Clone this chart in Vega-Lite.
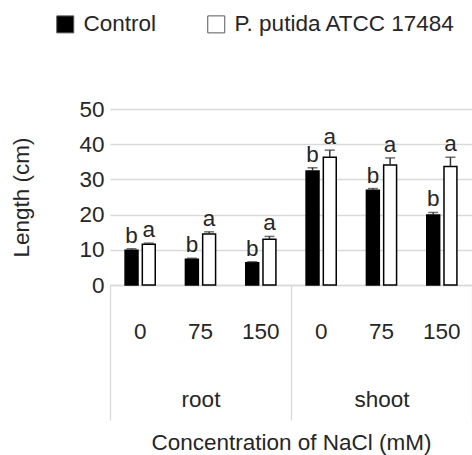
{
  "$schema": "https://vega.github.io/schema/vega-lite/v6.json",
  "width": 362,
  "height": 176,
  "autosize": {"type": "none"},
  "padding": {"left": 110, "top": 109, "right": 0, "bottom": 170},
  "background": "white",
  "config": {
    "font": "Liberation Sans",
    "view": {"stroke": null},
    "axis": {"labelColor": "#262626", "titleColor": "#262626", "labelFont": "Liberation Sans", "titleFont": "Liberation Sans", "titleFontWeight": "normal"},
    "axisY": {
      "titleFontSize": 22.5, "titlePadding": 16,
      "domain": false, "ticks": false, "labelOverlap": false, "tickCount": 6,
      "grid": true, "gridColor": "#d9d9d9", "gridWidth": 1.3,
      "labelFontSize": 22.5, "labelPadding": 6, "labelDx": -28, "titleX": -77
    },
    "legend": {"labelColor": "#262626", "labelFont": "Liberation Sans"}
  },
  "data": {
    "values": [
      {"tissue": "root", "grp": "r0", "conc": "0", "treatment": "Control", "value": 9.9, "hi": 10.3, "letter": "b"},
      {"tissue": "root", "grp": "r0", "conc": "0", "treatment": "P. putida ATCC 17484", "value": 11.6, "hi": 11.9, "letter": "a"},
      {"tissue": "root", "grp": "r75", "conc": "75", "treatment": "Control", "value": 7.3, "hi": 7.6, "letter": "b"},
      {"tissue": "root", "grp": "r75", "conc": "75", "treatment": "P. putida ATCC 17484", "value": 14.5, "hi": 15.1, "letter": "a"},
      {"tissue": "root", "grp": "r150", "conc": "150", "treatment": "Control", "value": 6.3, "hi": 6.6, "letter": "b"},
      {"tissue": "root", "grp": "r150", "conc": "150", "treatment": "P. putida ATCC 17484", "value": 13.0, "hi": 13.8, "letter": "a"},
      {"tissue": "shoot", "grp": "s0", "conc": "0", "treatment": "Control", "value": 32.4, "hi": 33.3, "letter": "b"},
      {"tissue": "shoot", "grp": "s0", "conc": "0", "treatment": "P. putida ATCC 17484", "value": 36.3, "hi": 38.3, "letter": "a"},
      {"tissue": "shoot", "grp": "s75", "conc": "75", "treatment": "Control", "value": 26.9, "hi": 27.4, "letter": "b"},
      {"tissue": "shoot", "grp": "s75", "conc": "75", "treatment": "P. putida ATCC 17484", "value": 34.1, "hi": 36.1, "letter": "a"},
      {"tissue": "shoot", "grp": "s150", "conc": "150", "treatment": "Control", "value": 19.9, "hi": 20.6, "letter": "b"},
      {"tissue": "shoot", "grp": "s150", "conc": "150", "treatment": "P. putida ATCC 17484", "value": 33.7, "hi": 36.3, "letter": "a"}
    ]
  },
  "layer": [
    {
      "mark": {"type": "bar", "stroke": "black", "strokeWidth": 1.5},
      "encoding": {
        "x": {
          "field": "grp", "type": "nominal",
          "sort": ["r0", "r75", "r150", "s0", "s75", "s150"],
          "scale": {"paddingInner": 0.5, "paddingOuter": 0.25},
          "axis": {
            "orient": "bottom", "title": null, "ticks": false, "grid": false,
            "domainColor": "#d9d9d9", "domainWidth": 1.3,
            "labelExpr": "substring(datum.label, 1)",
            "labelAngle": 0, "labelFontSize": 22.5, "labelPadding": 35, "labelOverlap": false
          }
        },
        "xOffset": {
          "field": "treatment", "type": "nominal",
          "sort": ["Control", "P. putida ATCC 17484"],
          "scale": {"paddingInner": 0.25, "paddingOuter": 0}
        },
        "y": {
          "field": "value", "type": "quantitative",
          "scale": {"domain": [0, 50]},
          "axis": {"orient": "left", "title": "Length (cm)", "titleFontSize": 22.5, "titleX": -77, "values": [0, 10, 20, 30, 40, 50], "tickCount": 6, "labelOverlap": false, "domain": false, "ticks": false, "grid": true, "gridColor": "#d9d9d9", "gridWidth": 1.3, "labelFontSize": 22.5, "labelPadding": 6, "labelDx": -28}
        },
        "fill": {
          "field": "treatment", "type": "nominal",
          "scale": {"domain": ["Control", "P. putida ATCC 17484"], "range": ["black", "white"]},
          "legend": {
            "orient": "none", "legendX": -56, "legendY": -96,
            "direction": "horizontal", "title": null,
            "symbolType": "square", "symbolSize": 289,
            "symbolStrokeColor": "#595959", "symbolStrokeWidth": 1,
            "labelFontSize": 22.5, "labelOffset": 7, "columnPadding": 48,
            "labelLimit": 0, "padding": 0
          }
        }
      }
    },
    {
      "mark": {"type": "rule", "color": "#333333", "strokeWidth": 1.5},
      "encoding": {
        "x": {"field": "grp", "type": "nominal", "sort": ["r0", "r75", "r150", "s0", "s75", "s150"], "scale": {"paddingInner": 0.5, "paddingOuter": 0.25}, "axis": null},
        "xOffset": {"field": "treatment", "type": "nominal", "sort": ["Control", "P. putida ATCC 17484"], "scale": {"paddingInner": 0.25, "paddingOuter": 0}},
        "y": {"field": "value", "type": "quantitative", "scale": {"domain": [0, 50]},
          "axis": {"orient": "left", "title": "Length (cm)", "titleFontSize": 22.5, "titleX": -77, "values": [0, 10, 20, 30, 40, 50], "tickCount": 6, "labelOverlap": false, "domain": false, "ticks": false, "grid": true, "gridColor": "#d9d9d9", "gridWidth": 1.3, "labelFontSize": 22.5, "labelPadding": 6, "labelDx": -28}},
        "y2": {"field": "hi"}
      }
    },
    {
      "mark": {"type": "tick", "orient": "horizontal", "color": "#333333", "thickness": 1.5, "size": 10},
      "encoding": {
        "x": {"field": "grp", "type": "nominal", "sort": ["r0", "r75", "r150", "s0", "s75", "s150"], "scale": {"paddingInner": 0.5, "paddingOuter": 0.25}, "axis": null},
        "xOffset": {"field": "treatment", "type": "nominal", "sort": ["Control", "P. putida ATCC 17484"], "scale": {"paddingInner": 0.25, "paddingOuter": 0}},
        "y": {"field": "hi", "type": "quantitative", "scale": {"domain": [0, 50]},
          "axis": {"orient": "left", "title": "Length (cm)", "titleFontSize": 22.5, "titleX": -77, "values": [0, 10, 20, 30, 40, 50], "tickCount": 6, "labelOverlap": false, "domain": false, "ticks": false, "grid": true, "gridColor": "#d9d9d9", "gridWidth": 1.3, "labelFontSize": 22.5, "labelPadding": 6, "labelDx": -28}}
      }
    },
    {
      "mark": {"type": "text", "baseline": "alphabetic", "dy": -6, "fontSize": 22.5, "color": "#262626", "font": "Liberation Sans"},
      "encoding": {
        "x": {"field": "grp", "type": "nominal", "sort": ["r0", "r75", "r150", "s0", "s75", "s150"], "scale": {"paddingInner": 0.5, "paddingOuter": 0.25}, "axis": null},
        "xOffset": {"field": "treatment", "type": "nominal", "sort": ["Control", "P. putida ATCC 17484"], "scale": {"paddingInner": 0.25, "paddingOuter": 0}},
        "y": {"field": "hi", "type": "quantitative", "scale": {"domain": [0, 50]},
          "axis": {"orient": "left", "title": "Length (cm)", "titleFontSize": 22.5, "titleX": -77, "values": [0, 10, 20, 30, 40, 50], "tickCount": 6, "labelOverlap": false, "domain": false, "ticks": false, "grid": true, "gridColor": "#d9d9d9", "gridWidth": 1.3, "labelFontSize": 22.5, "labelPadding": 6, "labelDx": -28}},
        "text": {"field": "letter"}
      }
    },
    {
      "mark": {"type": "bar", "opacity": 0},
      "encoding": {
        "x": {
          "field": "tissue", "type": "nominal",
          "sort": ["root", "shoot"],
          "scale": {"paddingInner": 0, "paddingOuter": 0},
          "axis": {
            "orient": "bottom", "title": "Concentration of NaCl (mM)",
            "titleFontSize": 22.5, "titlePadding": 11,
            "domain": false, "grid": false,
            "ticks": true, "tickBand": "extent", "tickSize": 135,
            "tickColor": "#d9d9d9", "tickWidth": 1.3,
            "labelAngle": 0, "labelFontSize": 22.5, "labelPadding": -32
          }
        },
        "y": {"field": "value", "type": "quantitative", "scale": {"domain": [0, 50]},
          "axis": {"orient": "left", "title": "Length (cm)", "titleFontSize": 22.5, "titleX": -77, "values": [0, 10, 20, 30, 40, 50], "tickCount": 6, "labelOverlap": false, "domain": false, "ticks": false, "grid": true, "gridColor": "#d9d9d9", "gridWidth": 1.3, "labelFontSize": 22.5, "labelPadding": 6, "labelDx": -28}}
      }
    }
  ],
  "resolve": {"scale": {"x": "independent"}}
}
